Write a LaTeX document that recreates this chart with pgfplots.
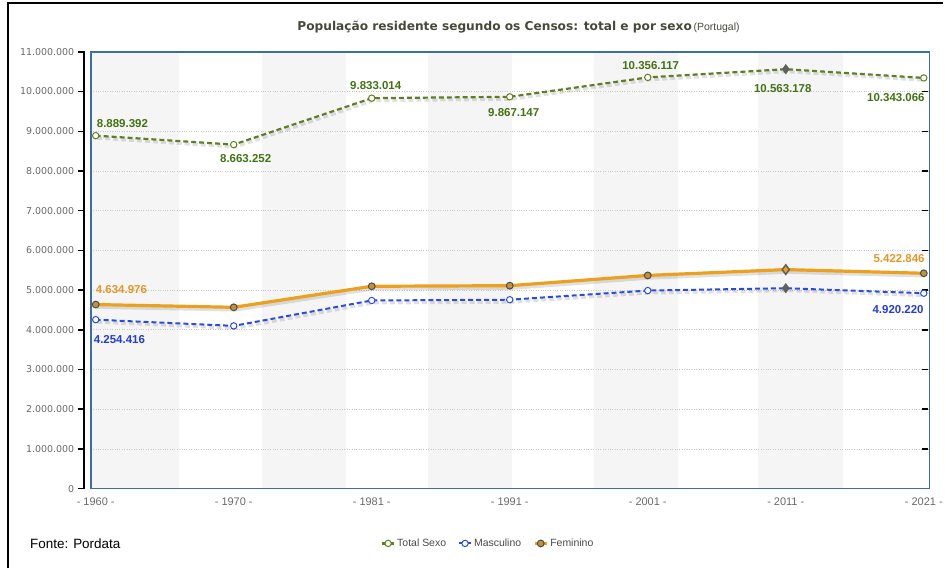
\documentclass[border=0pt]{standalone}
\usepackage{pgfplots}
\pgfplotsset{compat=1.18}
\usepackage{pgfplotstable}
\usepackage{fontspec}
\setmainfont{Liberation Sans}
\newfontfamily\verdana{DejaVu Sans}
\definecolor{totline}{RGB}{95,125,35}
\definecolor{tottext}{RGB}{65,115,20}
\definecolor{masline}{RGB}{40,75,225}
\definecolor{mastext}{RGB}{35,60,215}
\definecolor{femline}{RGB}{235,160,30}
\definecolor{femtext}{RGB}{228,150,40}
\definecolor{femfill}{RGB}{195,145,60}
\definecolor{axisblue}{RGB}{60,110,160}
\definecolor{gridgray}{RGB}{200,200,200}
\definecolor{bandgray}{RGB}{245,245,245}
\definecolor{tickgray}{RGB}{105,105,105}
\definecolor{titlecol}{RGB}{72,72,58}
\pgfplotsset{set layers}

\pgfplotstableread{
x y
0 8889392
1 8663252
2 9833014
3 9867147
4 10356117
5 10563178
6 10343066
}\total
\pgfplotstableread{
x y
0 4254416
1 4097665
2 4737715
3 4756775
4 4987482
5 5046600
6 4920220
}\masc
\pgfplotstableread{
x y
0 4634976
1 4565587
2 5095299
3 5110372
4 5368635
5 5515578
6 5422846
}\fem

\begin{document}
\begin{tikzpicture}
\path (0pt,0pt) rectangle (946pt,570pt);
\draw[black,line width=2pt] (8pt,0pt) -- (8pt,567pt) -- (946pt,567pt);
\draw[black,line width=1.6pt] (84pt,79.2pt) -- (84pt,518.8pt);
\node[anchor=center,text=titlecol,inner sep=0pt] at (520pt,543pt)
  {{\verdana\bfseries\fontsize{12.2}{14}\selectfont População residente segundo os Censos: total e por sexo}\,{\fontsize{10.5}{12}\selectfont (Portugal)}};
\node[anchor=west,inner sep=0pt] at (30pt,25pt) {\fontsize{13.5}{15}\selectfont Fonte: Pordata};
\begin{axis}[
  at={(91pt,80pt)}, anchor=south west,
  width=841pt, height=438pt, scale only axis,
  xmin=-0.036, xmax=6.04, ymin=0, ymax=11000000,
  xtick={0,...,6},
  xticklabels={- 1960 -,- 1970 -,- 1981 -,- 1991 -,- 2001 -,- 2011 -,- 2021 -},
  ytick={0,1000000,...,11000000},
  scaled y ticks=false,
  /pgf/number format/fixed,
  /pgf/number format/precision=0,
  /pgf/number format/1000 sep={.},
  /pgf/number format/assume math mode=true,
  yticklabel={\verdana\fontsize{9.5}{11}\selectfont\pgfmathprintnumber{\tick}},
  ymajorgrids,
  grid style={dotted, gridgray, line width=0.7pt},
  axis line style={draw=axisblue, line width=1.6pt},
  tick align=outside,
  major tick length=6pt,
  ytick style={draw=black, line width=1.5pt, xshift=-7pt},
  xtick style={draw=none},
  yticklabel style={text=tickgray, xshift=-7pt},
  xticklabel style={font=\fontsize{11}{12}\selectfont, text=tickgray},
  clip=false,
  legend style={at={(axis description cs:0.474,-0.1256)}, anchor=center, draw=none, fill=none,
    font=\fontsize{10.5}{12}\selectfont, text=tickgray!70!black,
    /tikz/every even column/.append style={column sep=10pt}},
  legend columns=3,
  legend image code/.code={\draw[#1, mark indices={2}] plot coordinates {(0pt,0pt)(6pt,0pt)(12pt,0pt)};},
]
\begin{pgfonlayer}{axis background}
\fill[bandgray] (axis cs:-0.036,0) rectangle (axis cs:0.607,11000000);
\fill[bandgray] (axis cs:1.207,0) rectangle (axis cs:1.815,11000000);
\fill[bandgray] (axis cs:2.407,0) rectangle (axis cs:3.015,11000000);
\fill[bandgray] (axis cs:3.607,0) rectangle (axis cs:4.222,11000000);
\fill[bandgray] (axis cs:4.800,0) rectangle (axis cs:5.415,11000000);
\end{pgfonlayer}
% shadows
\addplot[forget plot, no marks, black, opacity=0.12, line width=3pt, xshift=1.5pt, yshift=-2.5pt, dash pattern=on 5pt off 3pt] table {\total};
\addplot[forget plot, no marks, black, opacity=0.12, line width=3pt, xshift=1.5pt, yshift=-2.5pt, dash pattern=on 5pt off 3pt] table {\masc};
\addplot[forget plot, no marks, black, opacity=0.12, line width=3.5pt, xshift=1.5pt, yshift=-2.5pt] table {\fem};
% series
\addplot[totline, line width=2.2pt, dash pattern=on 5pt off 3pt, mark=*, mark size=3.2pt, mark indices={1,2,3,4,5,7},
  mark options={solid, fill=white, draw=totline, line width=1pt}] table {\total};
\addlegendentry{Total Sexo}
\addplot[masline, line width=2pt, dash pattern=on 5pt off 3pt, mark=*, mark size=3.2pt, mark indices={1,2,3,4,5,7},
  mark options={solid, fill=white, draw=masline, line width=1pt}] table {\masc};
\addlegendentry{Masculino}
\addplot[femline, line width=3.2pt, mark=*, mark size=3.4pt, mark indices={1,2,3,4,5,7},
  mark options={solid, fill=femfill, draw=gray!60!black, line width=1pt}] table {\fem};
\addlegendentry{Feminino}
% highlighted 2011 points
\addplot[forget plot, only marks, mark=diamond*, mark size=4.8pt, mark options={fill=gray!75!black, draw=gray!75!black}] coordinates {(5,10563178) (5,5046600)};
\addplot[forget plot, only marks, mark=diamond*, mark size=4.8pt, mark options={fill=femline, draw=gray!75!black, line width=1.5pt}] coordinates {(5,5515578)};
% data labels
\begin{scope}[every node/.style={inner sep=0pt, font=\bfseries\fontsize{11.5}{13}\selectfont}]
\node[anchor=base west, xshift=1pt, yshift=8pt, text=tottext] at (axis cs:0,8889392) {8.889.392};
\node[anchor=base, xshift=12pt, yshift=-18pt, text=tottext] at (axis cs:1,8663252) {8.663.252};
\node[anchor=base, xshift=4pt, yshift=9pt, text=tottext] at (axis cs:2,9833014) {9.833.014};
\node[anchor=base, xshift=4pt, yshift=-20pt, text=tottext] at (axis cs:3,9867147) {9.867.147};
\node[anchor=base, xshift=3pt, yshift=8pt, text=tottext] at (axis cs:4,10356117) {10.356.117};
\node[anchor=base, xshift=-3pt, yshift=-23pt, text=tottext] at (axis cs:5,10563178) {10.563.178};
\node[anchor=base east, xshift=1pt, yshift=-24pt, text=tottext] at (axis cs:6,10343066) {10.343.066};
\node[anchor=base west, xshift=0pt, yshift=11pt, text=femtext] at (axis cs:0,4634976) {4.634.976};
\node[anchor=base east, xshift=1pt, yshift=11pt, text=femtext] at (axis cs:6,5422846) {5.422.846};
\node[anchor=base west, xshift=-2pt, yshift=-24pt, text=mastext] at (axis cs:0,4254416) {4.254.416};
\node[anchor=base east, xshift=0pt, yshift=-20pt, text=mastext] at (axis cs:6,4920220) {4.920.220};
\end{scope}
\end{axis}
\end{tikzpicture}
\end{document}
